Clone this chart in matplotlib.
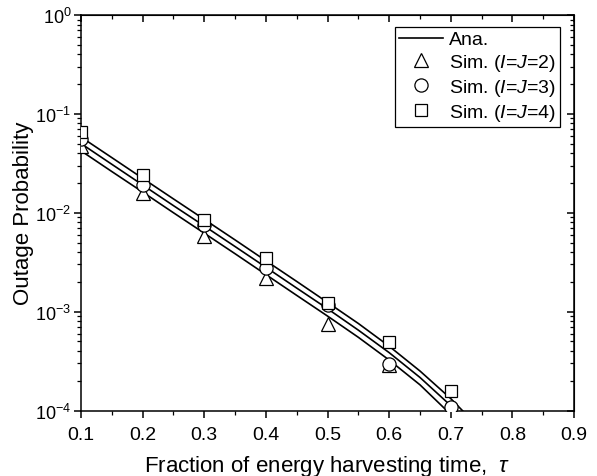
import matplotlib
matplotlib.use("Agg")
import matplotlib.pyplot as plt
from matplotlib.ticker import MultipleLocator, LogLocator, NullFormatter
import numpy as np

plt.rcParams["font.family"] = ["Liberation Sans", "DejaVu Sans"]
plt.rcParams["mathtext.fontset"] = "custom"
plt.rcParams["mathtext.rm"] = "Liberation Sans"
plt.rcParams["mathtext.it"] = "Liberation Sans:italic"
plt.rcParams["axes.unicode_minus"] = False

# analytic curves
tau_ana = [0.1, 0.15, 0.2, 0.25, 0.3, 0.35, 0.4, 0.45, 0.5, 0.55, 0.6, 0.65, 0.7, 0.75]
ana_ij4 = [0.0583, 0.0361, 0.0223, 0.0138, 0.00857, 0.00531, 0.00327, 0.00202,
           0.00124, 0.000759, 0.000447, 0.000251, 0.000132, 6.31e-5]
ana_ij3 = [0.0501, 0.0309, 0.0191, 0.0118, 0.00735, 0.00455, 0.00281, 0.00173,
           0.00107, 0.000650, 0.000385, 0.000216, 0.000112, 5.25e-5]
ana_ij2 = [0.0423, 0.0261, 0.0162, 0.0100, 0.00621, 0.00385, 0.00237, 0.00146,
           0.000902, 0.000550, 0.000324, 0.000182, 9.12e-5, 4.37e-5]

# simulation points
tau_sim = [0.1, 0.2, 0.3, 0.4, 0.5, 0.6, 0.7]
sim_ij2 = [0.0473, 0.0159, 0.00587, 0.00219, 0.00075, 0.00029, 8.0e-5]
sim_ij3 = [0.0557, 0.0191, 0.00753, 0.00277, 0.00118, 0.000296, 0.000109]
sim_ij4 = [0.0656, 0.0241, 0.00851, 0.00349, 0.00121, 0.000498, 0.000159]

fig = plt.figure(figsize=(5.97, 4.77), dpi=100)
ax = fig.add_axes([0.1357, 0.1373, 0.8258, 0.8292])

lw = 1.2
ax.plot(tau_ana, ana_ij2, color="black", lw=lw, zorder=2)
ax.plot(tau_ana, ana_ij3, color="black", lw=lw, zorder=2)
ax.plot(tau_ana, ana_ij4, color="black", lw=lw, zorder=2, label="Ana.")

mk = dict(linestyle="none", markerfacecolor="white", markeredgecolor="black",
          markeredgewidth=0.9)
ax.plot(tau_sim, sim_ij2, marker="^", markersize=10.5, zorder=3,
        label=r"Sim. ($\mathit{I}$=$\mathit{J}$=2)", **mk)
ax.plot(tau_sim, sim_ij3, marker="o", markersize=9.5, zorder=4,
        label=r"Sim. ($\mathit{I}$=$\mathit{J}$=3)", **mk)
ax.plot(tau_sim, sim_ij4, marker="s", markersize=9, zorder=5,
        label=r"Sim. ($\mathit{I}$=$\mathit{J}$=4)", **mk)

ax.set_yscale("log")
ax.set_xlim(0.1, 0.9)
ax.set_ylim(1e-4, 1)
ax.xaxis.set_major_locator(MultipleLocator(0.1))
ax.xaxis.set_minor_locator(MultipleLocator(0.05))
ax.yaxis.set_major_locator(LogLocator(base=10, numticks=10))
ax.yaxis.set_minor_locator(LogLocator(base=10, subs=np.arange(2, 10), numticks=10))
ax.yaxis.set_minor_formatter(NullFormatter())

for s in ax.spines.values():
    s.set_linewidth(1.1)
ax.tick_params(which="major", direction="out", length=5, width=1.1)
ax.tick_params(which="minor", direction="out", length=3, width=0.9)
ax.tick_params(axis="x", labelsize=14, pad=6)
ax.tick_params(axis="y", labelsize=13, pad=2)

# mirrored ticks pointing inward on top and right
top = ax.secondary_xaxis("top")
top.xaxis.set_major_locator(MultipleLocator(0.1))
top.xaxis.set_minor_locator(MultipleLocator(0.05))
top.tick_params(which="major", direction="in", length=5, width=1.1, labeltop=False)
top.tick_params(which="minor", direction="in", length=3, width=0.9)
right = ax.secondary_yaxis("right")
right.yaxis.set_major_locator(LogLocator(base=10, numticks=10))
right.yaxis.set_minor_locator(LogLocator(base=10, subs=np.arange(2, 10), numticks=10))
right.tick_params(which="major", direction="in", length=5, width=1.1, labelright=False)
right.tick_params(which="minor", direction="in", length=3, width=0.9, labelright=False)
right.yaxis.set_minor_formatter(NullFormatter())

ax.set_xlabel(r"Fraction of energy harvesting time,  $\tau$", fontsize=16, labelpad=7)
ax.set_ylabel("Outage Probability", fontsize=16, labelpad=1)

leg = ax.legend(loc="upper right", bbox_to_anchor=(0.9716, 0.97), fontsize=14,
                frameon=True, fancybox=False, edgecolor="black", framealpha=1,
                borderpad=0.2, labelspacing=0.2, handlelength=2.3,
                handletextpad=0.3, borderaxespad=0.0)
leg.get_frame().set_linewidth(0.9)

fig.savefig("out.png", dpi=100)
